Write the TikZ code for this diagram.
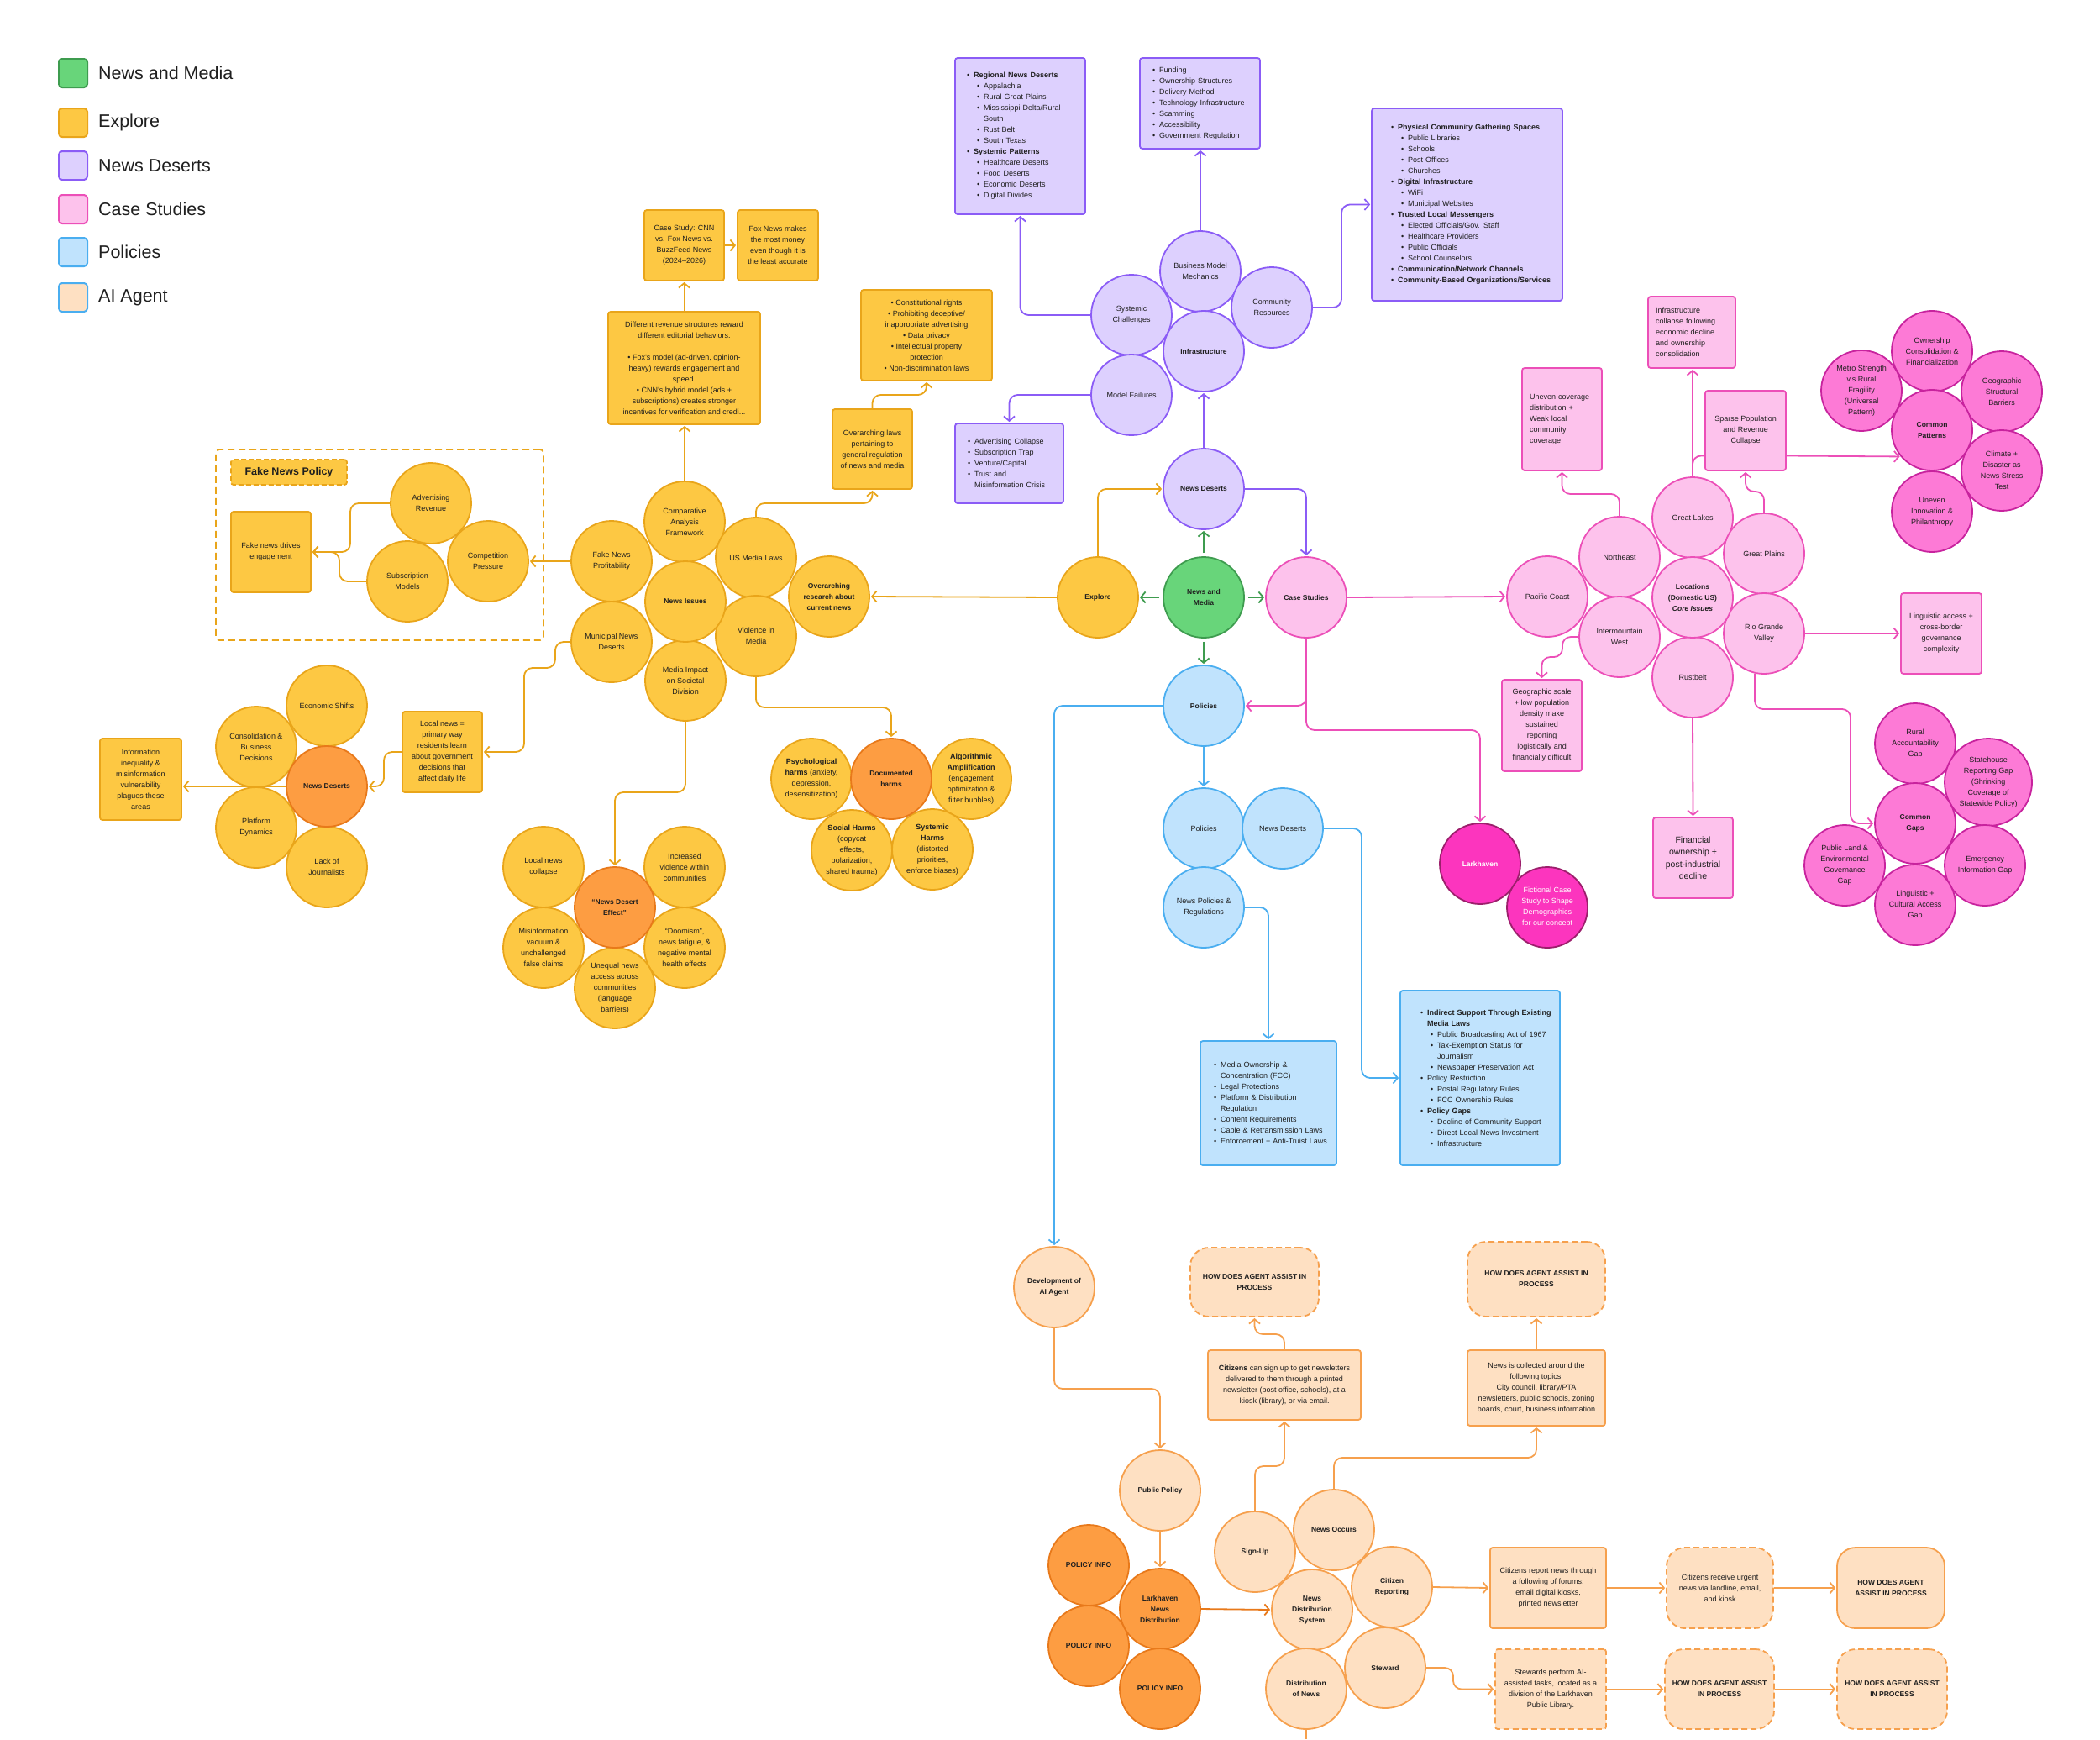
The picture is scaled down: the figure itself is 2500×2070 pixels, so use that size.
\documentclass[tikz,border=0pt]{standalone}
\usepackage{fontspec}
\setmainfont{Liberation Sans}
\usetikzlibrary{arrows.meta,calc}
\definecolor{txt}{HTML}{1F1F1F}
\definecolor{yF}{HTML}{FDC843}
\definecolor{yD}{HTML}{E9A51A}
\definecolor{oF}{HTML}{FD9D42}
\definecolor{oD}{HTML}{E8791A}
\definecolor{pF}{HTML}{DDD0FE}
\definecolor{pD}{HTML}{8B5CF6}
\definecolor{kF}{HTML}{FDC2EC}
\definecolor{kD}{HTML}{EC4FB8}
\definecolor{kkF}{HTML}{FD7AD6}
\definecolor{kkD}{HTML}{C8239E}
\definecolor{lkF}{HTML}{FC35BE}
\definecolor{lkD}{HTML}{9C1F6C}
\definecolor{bF}{HTML}{C0E3FD}
\definecolor{bD}{HTML}{4AAEF0}
\definecolor{gF}{HTML}{68D57A}
\definecolor{gD}{HTML}{3E9C4F}
\definecolor{aF}{HTML}{FEE0C2}
\definecolor{aD}{HTML}{F6A04D}
\newcommand\fs[2]{\fontsize{#1}{#2}\selectfont}
\newcommand\lbA[1]{\mbox{\makebox[8pt][l]{\textbullet}#1}}
\newcommand\lbB[1]{\mbox{\hspace*{12pt}\makebox[8pt][l]{\textbullet}#1}}
\newcommand\lcA[1]{\mbox{\hspace*{8pt}#1}}
\newcommand\lcB[1]{\mbox{\hspace*{20pt}#1}}
\pgfdeclarelayer{bg}
\pgfsetlayers{bg,main}
\tikzset{
  base/.style={font=\fs{9}{13}, text=txt, align=center, inner sep=0pt},
  bld/.style={font=\bfseries\fs{8.5}{13}},
  circ/.style={base, circle, line width=1.8pt, minimum size=96pt},
  cY/.style={circ, fill=yF, draw=yD},
  cO/.style={circ, fill=oF, draw=oD},
  cP/.style={circ, fill=pF, draw=pD},
  cK/.style={circ, fill=kF, draw=kD},
  cKK/.style={circ, fill=kkF, draw=kkD},
  cL/.style={circ, fill=lkF, draw=lkD, text=white},
  cB/.style={circ, fill=bF, draw=bD},
  cG/.style={circ, fill=gF, draw=gD},
  cA/.style={circ, fill=aF, draw=aD},
  bx/.style={base, rectangle, rounded corners=3pt, line width=1.8pt},
  bY/.style={bx, fill=yF, draw=yD},
  bP/.style={bx, fill=pF, draw=pD, align=left},
  bK/.style={bx, fill=kF, draw=kD},
  bKl/.style={bx, fill=kF, draw=kD, align=left},
  bB/.style={bx, fill=bF, draw=bD, align=left},
  bA/.style={bx, fill=aF, draw=aD},
  bAd/.style={bx, fill=aF, draw=aD, dash pattern=on 7pt off 4pt},
  sz/.style 2 args={minimum width=#1pt, minimum height=#2pt},
  legsq/.style={rectangle, rounded corners=4pt, line width=2pt, minimum size=34pt, inner sep=0pt},
  legtx/.style={font=\fs{21.5}{26}, text=txt, inner sep=0pt},
  conn/.style={line width=1.8pt, rounded corners=10pt, -{Straight Barb[length=5.5pt,width=13pt]}, shorten >=1pt},
  plain/.style={line width=1.8pt, rounded corners=10pt},
}
\begin{document}
\begin{tikzpicture}[x=1pt,y=-1pt]
\useasboundingbox (0,0) rectangle (2500,2070);
\begin{pgfonlayer}{bg}
\fill[white] (0,0) rectangle (2500,2070);
\end{pgfonlayer}

% ---------- legend
\foreach \yy/\f/\d/\t [count=\i] in {87/gF/gD/News and Media, 146/yF/yD/Explore, 197/pF/pD/News Deserts, 249/kF/kD/Case Studies, 300/bF/bD/Policies, 354/aF/bD/AI Agent}{
  \node[legsq, fill=\f, draw=\d] (lg\i) at (87,\yy) {};
  \node[legtx, anchor=west] (lt\i) at (117,\yy) {\t};
}

% ---------- fake news policy
\node[draw=yD, line width=1.8pt, rounded corners=4pt, dash pattern=on 8pt off 5pt, minimum width=390pt, minimum height=227pt, inner sep=0pt] (fnpbox) at (452,648.5) {};
\node[bY, dash pattern=on 6pt off 3pt, sz={138}{30}, font=\bfseries\fs{12.5}{15}] (fnpt) at (344,562) {Fake News Policy};
\node[bY, sz={95}{96}] (fnd) at (322.5,657) {Fake news drives\\engagement};
\node[cY] (advrev) at (513,599) {Advertising\\Revenue};
\node[cY] (subm) at (485,692) {Subscription\\Models};
\node[cY] (comp) at (581,668) {Competition\\Pressure};

% ---------- explore cluster
\node[cY] (caf) at (815,621) {Comparative\\Analysis\\Framework};
\node[cY] (fnprof) at (728,668) {Fake News\\Profitability};
\node[cY] (usml) at (900,664) {US Media Laws};
\node[cY] (mund) at (728,764) {Municipal News\\Deserts};
\node[cY] (viol) at (900,757) {Violence in\\Media};
\node[cY] (mimp) at (816,810) {Media Impact\\on Societal\\Division};
\node[cY, bld] (nissues) at (816,716) {News Issues};
\node[cY, bld] (ores) at (987,710) {Overarching\\research about\\current news};

\node[bY, sz={181}{134}] (diff) at (814.5,438) {Different revenue structures reward\\different editorial behaviors.\\[13pt]\textbullet\ Fox’s model (ad-driven, opinion-\\heavy) rewards engagement and\\speed.\\\textbullet\ CNN’s hybrid model (ads +\\subscriptions) creates stronger\\incentives for verification and credi...};
\node[bY, sz={95}{84}] (cs) at (814.5,292) {Case Study: CNN\\vs. Fox News vs.\\BuzzFeed News\\(2024–2026)};
\node[bY, sz={96}{84}] (fox) at (926,292) {Fox News makes\\the most money\\even though it is\\the least accurate};
\node[bY, sz={156}{108}] (const) at (1103,399) {\textbullet\ Constitutional rights\\\textbullet\ Prohibiting deceptive/\\inappropriate advertising\\\textbullet\ Data privacy\\\textbullet\ Intellectual property\\protection\\\textbullet\ Non-discrimination laws};
\node[bY, sz={95}{95}] (olaws) at (1038.5,534.5) {Overarching laws\\pertaining to\\general regulation\\of news and media};

% ---------- left news deserts cluster
\node[cY] (econ) at (389,840) {Economic Shifts};
\node[cY] (consol) at (305,889) {Consolidation \&\\Business\\Decisions};
\node[cY] (platf) at (305,985) {Platform\\Dynamics};
\node[cY] (lackj) at (389,1032) {Lack of\\Journalists};
\node[cO, bld] (ndl) at (389,936) {News Deserts};
\node[bY, sz={95}{96}] (local) at (526.5,895) {Local news =\\primary way\\residents learn\\about government\\decisions that\\affect daily life};
\node[bY, sz={97}{97}] (info) at (167.5,927.5) {Information\\inequality \&\\misinformation\\vulnerability\\plagues these\\areas};

% ---------- news desert effect
\node[cY] (lnc) at (647,1032) {Local news\\collapse};
\node[cY] (incv) at (815,1032) {Increased\\violence within\\communities};
\node[cY] (misv) at (647,1128) {Misinformation\\vacuum \&\\unchallenged\\false claims};
\node[cY] (doom) at (815,1128) {“Doomism”,\\news fatigue, \&\\negative mental\\health effects};
\node[cY] (uneq) at (732,1176) {Unequal news\\access across\\communities\\(language\\barriers)};
\node[cO, bld] (nde) at (732,1080) {“News Desert\\Effect”};

% ---------- documented harms
\node[cY] (pharm) at (966,927) {\textbf{Psychological}\\\textbf{harms} (anxiety,\\depression,\\desensitization)};
\node[cY] (algo) at (1156,927) {\textbf{Algorithmic}\\\textbf{Amplification}\\(engagement\\optimization \&\\filter bubbles)};
\node[cY] (soch) at (1014,1012) {\textbf{Social Harms}\\(copycat\\effects,\\polarization,\\shared trauma)};
\node[cY] (sysh) at (1110,1011) {\textbf{Systemic}\\\textbf{Harms}\\(distorted\\priorities,\\enforce biases)};
\node[cO, bld] (doch) at (1061,927) {Documented\\harms};

% ---------- central
\node[cY, bld] (explore) at (1307,711) {Explore};
\node[cG, bld] (nm) at (1433,711) {News and\\Media};
\node[cK, bld] (cases) at (1555,711) {Case Studies};
\node[cP, bld] (ndes) at (1433,582) {News Deserts};
\node[cB, bld] (pol) at (1433,840) {Policies};

% ---------- purple cluster
\node[cP] (bmm) at (1429,323) {Business Model\\Mechanics};
\node[cP] (sysc) at (1347,375) {Systemic\\Challenges};
\node[cP] (comr) at (1514,366) {Community\\Resources};
\node[cP] (modf) at (1347,470) {Model Failures};
\node[cP, bld] (infra) at (1433,418) {Infrastructure};

\node[bP, sz={155}{186}, text width=127pt] (rnd) at (1214.5,162) {\lbA{\textbf{Regional News Deserts}}\\\lbB{Appalachia}\\\lbB{Rural Great Plains}\\\lbB{Mississippi Delta/Rural}\\\lcB{South}\\\lbB{Rust Belt}\\\lbB{South Texas}\\\lbA{\textbf{Systemic Patterns}}\\\lbB{Healthcare Deserts}\\\lbB{Food Deserts}\\\lbB{Economic Deserts}\\\lbB{Digital Divides}};
\node[bP, sz={143}{108}, text width=113pt] (fund) at (1428.5,123) {\lbA{Funding}\\\lbA{Ownership Structures}\\\lbA{Delivery Method}\\\lbA{Technology Infrastructure}\\\lbA{Scamming}\\\lbA{Accessibility}\\\lbA{Government Regulation}};
\node[bP, sz={227}{229}, text width=181pt] (phys) at (1746.5,243.5) {\lbA{\textbf{Physical Community Gathering Spaces}}\\\lbB{Public Libraries}\\\lbB{Schools}\\\lbB{Post Offices}\\\lbB{Churches}\\\lbA{\textbf{Digital Infrastructure}}\\\lbB{WiFi}\\\lbB{Municipal Websites}\\\lbA{\textbf{Trusted Local Messengers}}\\\lbB{Elected Officials/Gov. Staff}\\\lbB{Healthcare Providers}\\\lbB{Public Officials}\\\lbB{School Counselors}\\\lbA{\textbf{Communication/Network Channels}}\\\lbA{\textbf{Community-Based Organizations/Services}}};
\node[bP, sz={129}{95}, text width=99pt] (adv) at (1201.5,551.5) {\lbA{Advertising Collapse}\\\lbA{Subscription Trap}\\\lbA{Venture/Capital}\\\lbA{Trust and}\\\lcA{Misinformation Crisis}};

% ---------- pink cluster
\node[cK] (pac) at (1842,710) {Pacific Coast};
\node[cK] (ne) at (1928,663) {Northeast};
\node[cK] (gl) at (2015,616) {Great Lakes};
\node[cK] (gp) at (2100,659) {Great Plains};
\node[cK] (imw) at (1928,758) {Intermountain\\West};
\node[cK] (rgv) at (2100,754) {Rio Grande\\Valley};
\node[cK] (rust) at (2015,806) {Rustbelt};
\node[cK, bld] (loc) at (2015,711) {Locations\\(Domestic US)\\\textit{Core Issues}};

\node[bKl, sz={95}{122}, text width=77pt] (unev) at (1859.5,499) {Uneven coverage\\distribution +\\Weak local\\community\\coverage};
\node[bKl, sz={104}{85}, text width=86pt] (infc) at (2014,395.5) {Infrastructure\\collapse following\\economic decline\\and ownership\\consolidation};
\node[bK, sz={96}{95}] (sparse) at (2078,512.5) {Sparse Population\\and Revenue\\Collapse};
\node[bK, sz={96}{96}] (ling) at (2311,754) {Linguistic access +\\cross-border\\governance\\complexity};
\node[bK, sz={95}{109}] (geo) at (1835.5,863.5) {Geographic scale\\+ low population\\density make\\sustained\\reporting\\logistically and\\financially difficult};
\node[bK, sz={95}{96}, font=\fs{10.5}{14.5}] (fin) at (2015.5,1021) {Financial\\ownership +\\post-industrial\\decline};

\node[cKK] (own) at (2300,418) {Ownership\\Consolidation \&\\Financialization};
\node[cKK] (metro) at (2216,465) {Metro Strength\\v.s Rural\\Fragility\\(Universal\\Pattern)};
\node[cKK] (geob) at (2383,466) {Geographic\\Structural\\Barriers};
\node[cKK] (clim) at (2383,560) {Climate +\\Disaster as\\News Stress\\Test};
\node[cKK] (uninv) at (2300,609) {Uneven\\Innovation \&\\Philanthropy};
\node[cKK, bld] (cpat) at (2300,512) {Common\\Patterns};

\node[cKK] (rural) at (2280,885) {Rural\\Accountability\\Gap};
\node[cKK, minimum size=104pt] (state) at (2367,931) {Statehouse\\Reporting Gap\\(Shrinking\\Coverage of\\Statewide Policy)};
\node[cKK] (emerg) at (2363,1030) {Emergency\\Information Gap};
\node[cKK] (lingc) at (2280,1077) {Linguistic +\\Cultural Access\\Gap};
\node[cKK] (pland) at (2196,1030) {Public Land \&\\Environmental\\Governance\\Gap};
\node[cKK, bld] (cgap) at (2280,980) {Common\\Gaps};

\node[cL, bld] (lark) at (1762,1028) {Larkhaven};
\node[cL] (fict) at (1842,1080) {Fictional Case\\Study to Shape\\Demographics\\for our concept};

% ---------- blue
\node[cB] (pol2) at (1433,986) {Policies};
\node[cB] (nd2) at (1527,986) {News Deserts};
\node[cB] (npr) at (1433,1080) {News Policies \&\\Regulations};
\node[bB, sz={162}{148}, text width=130pt] (pb1) at (1510,1313) {\lbA{Media Ownership \&}\\\lcA{Concentration (FCC)}\\\lbA{Legal Protections}\\\lbA{Platform \& Distribution}\\\lcA{Regulation}\\\lbA{Content Requirements}\\\lbA{Cable \& Retransmission Laws}\\\lbA{Enforcement + Anti-Truist Laws}};
\node[bB, sz={190}{208}, text width=142pt] (pb2) at (1762,1283) {\lbA{\textbf{Indirect Support Through Existing}}\\\lcA{\textbf{Media Laws}}\\\lbB{Public Broadcasting Act of 1967}\\\lbB{Tax-Exemption Status for}\\\lcB{Journalism}\\\lbB{Newspaper Preservation Act}\\\lbA{Policy Restriction}\\\lbB{Postal Regulatory Rules}\\\lbB{FCC Ownership Rules}\\\lbA{\textbf{Policy Gaps}}\\\lbB{Decline of Community Support}\\\lbB{Direct Local News Investment}\\\lbB{Infrastructure}};

% ---------- AI agent
\node[cA, bld] (dev) at (1255,1532) {Development of\\AI Agent};
\node[cA, bld] (pp) at (1381,1774) {Public Policy};
\node[cO, bld] (pi1) at (1296,1863) {POLICY INFO};
\node[cO, bld] (pi2) at (1296,1959) {POLICY INFO};
\node[cO, bld] (lnd) at (1381,1915) {Larkhaven\\News\\Distribution};
\node[cO, bld] (pi3) at (1381,2010) {POLICY INFO};
\node[cA, bld] (sign) at (1494,1847) {Sign-Up};
\node[cA, bld] (nocc) at (1588,1821) {News Occurs};
\node[cA, bld] (nds) at (1562,1916) {News\\Distribution\\System};
\node[cA, bld] (citr) at (1657,1889) {Citizen\\Reporting};
\node[cA, bld] (stwd) at (1649,1985) {Steward};
\node[cA, bld] (distn) at (1555,2010) {Distribution\\of News};
\coordinate (offb) at (1555,2070);

\node[bAd, sz={153}{82}, rounded corners=22pt, bld] (howA) at (1493.5,1526) {HOW DOES AGENT ASSIST IN\\PROCESS};
\node[bA, sz={182}{83}] (signbox) at (1529,1648.5) {\textbf{Citizens} can sign up to get newsletters\\delivered to them through a printed\\newsletter (post office, schools), at a\\kiosk (library), or via email.};
\node[bAd, sz={164}{89}, rounded corners=22pt, bld] (howB) at (1829,1522.5) {HOW DOES AGENT ASSIST IN\\PROCESS};
\node[bA, sz={164}{90}] (newsbox) at (1829,1652) {News is collected around the\\following topics:\\City council, library/PTA\\newsletters, public schools, zoning\\boards, court, business information};
\node[bA, sz={138}{96}] (crep) at (1843,1890) {Citizens report news through\\a following of forums:\\email digital kiosks,\\printed newsletter};
\node[bAd, sz={127}{96}, rounded corners=22pt] (crecv) at (2047.5,1890) {Citizens receive urgent\\news via landline, email,\\and kiosk};
\node[bA, sz={128}{96}, rounded corners=22pt, bld] (howC) at (2251,1890) {HOW DOES AGENT\\ASSIST IN PROCESS};
\node[bAd, sz={132}{95}] (stew) at (1846,2010.5) {Stewards perform AI-\\assisted tasks, located as a\\division of the Larkhaven\\Public Library.};
\node[bAd, sz={130}{95}, rounded corners=22pt, bld] (howD) at (2047,2010.5) {HOW DOES AGENT ASSIST\\IN PROCESS};
\node[bAd, sz={131}{95}, rounded corners=22pt, bld] (howE) at (2252.5,2010.5) {HOW DOES AGENT ASSIST\\IN PROCESS};

% ---------- connectors
\begin{pgfonlayer}{bg}
% yellow
\draw[conn, draw=yD] (fnprof.west) -- (comp.east);
\draw[conn, draw=yD] (advrev.west) -- (417,599) |- (fnd.east);
\draw[conn, draw=yD] (subm.west) -- (404,692) |- (fnd.east);
\draw[conn, draw=yD] (caf.north) -- (caf.north |- diff.south);
\draw[conn, draw=yD] (diff.north) -- (diff.north |- cs.south);
\draw[conn, draw=yD] (cs.east) -- (fox.west);
\draw[conn, draw=yD] (usml.north) -- (900,599) -| (olaws.south);
\draw[conn, draw=yD] (olaws.north) -- (1038.5,470) -| (const.south);
\draw[conn, draw=yD] (mund.west) -- (661,764) -- (661,795) -- (624,795) |- (local.east);
\draw[conn, draw=yD] (local.west) -- (457,895) |- (ndl.east);
\draw[conn, draw=yD] (ndl.west) -- (info.east |- ndl.west);
\draw[conn, draw=yD] (mimp.south) -- (816,943) -| (nde.north);
\draw[conn, draw=yD] (viol.south) -- (900,842) -| (doch.north);
\draw[conn, draw=yD] (explore.west) -- (ores.east);
\draw[conn, draw=yD] (explore.north) |- (ndes.west);
% green
\draw[conn, draw=gD, shorten <=4pt] (nm.west) -- (explore.east);
\draw[conn, draw=gD, shorten <=4pt] (nm.east) -- (cases.west);
\draw[conn, draw=gD, shorten <=4pt] (nm.north) -- (ndes.south);
\draw[conn, draw=gD, shorten <=4pt] (nm.south) -- (pol.north);
% purple
\draw[conn, draw=pD] (ndes.east) -| (cases.north);
\draw[conn, draw=pD] (ndes.north) -- (infra.south);
\draw[conn, draw=pD] (sysc.west) -| (rnd.south);
\draw[conn, draw=pD] (bmm.north) -- (bmm.north |- fund.south);
\draw[conn, draw=pD] (comr.east) -- (1597,366) |- (phys.west);
\draw[conn, draw=pD] (modf.west) -| (adv.north);
% pink
\draw[conn, draw=kD] (cases.east) -- (pac.west);
\draw[conn, draw=kD] (cases.south) |- (pol.east);
\draw[conn, draw=kD] (cases.south) -- (1555,869) -| (lark.north);
\draw[conn, draw=kD] (ne.north) -- (1928,588) -| (unev.south);
\draw[conn, draw=kD] (gl.north) -- (gl.north |- infc.south);
\draw[plain, draw=kD] (gl.north) |- ([yshift=-30pt]sparse.west);
\draw[conn, draw=kD] (gp.north) -- (2100,585) -| (sparse.south);
\draw[conn, draw=kD] ([yshift=-30pt]sparse.east) -- (cpat.220);
\draw[conn, draw=kD] (rgv.east) -- (ling.west);
\draw[conn, draw=kD] (imw.west) -- (1860,758) -- (1860,782) -- (1835.5,782) -- (geo.north);
\draw[conn, draw=kD] (rust.south) -- (fin.north);
\draw[conn, draw=kD] (rgv.257) |- (2203,844) |- (cgap.west);
% blue
\draw[conn, draw=bD] (pol.west) -| (dev.north);
\draw[conn, draw=bD] (pol.south) -- (pol2.north);
\draw[conn, draw=bD] (nd2.east) -- (1621,986) |- (pb2.west);
\draw[conn, draw=bD] (npr.east) -| (pb1.north);
% AI agent
\draw[conn, draw=aD] (dev.south) -- (1255,1653) -| (pp.north);
\draw[conn, draw=aD] (pp.south) -- (lnd.north);
\draw[conn, draw=oD] (lnd.east) -- (nds.west);
\draw[conn, draw=aD] (sign.north) -- (1494,1745) -| (signbox.south);
\draw[conn, draw=aD] (signbox.north) -- (1529,1588) -| (howA.south);
\draw[conn, draw=aD] (nocc.north) -- (1588,1735) -| (newsbox.south);
\draw[conn, draw=aD] (newsbox.north) -- (howB.south);
\draw[conn, draw=aD] (citr.east) -- (crep.west);
\draw[conn, draw=aD] (crep.east) -- (crecv.west);
\draw[conn, draw=aD] (crecv.east) -- (howC.west);
\draw[conn, draw=aD] (stwd.east) -- (1730,1985) |- (stew.west);
\draw[conn, draw=aD] (stew.east) -- (howD.west);
\draw[conn, draw=aD] (howD.east) -- (howE.west);
\draw[plain, draw=aD] (distn.south) -- (offb);
\end{pgfonlayer}
\end{tikzpicture}
\end{document}
